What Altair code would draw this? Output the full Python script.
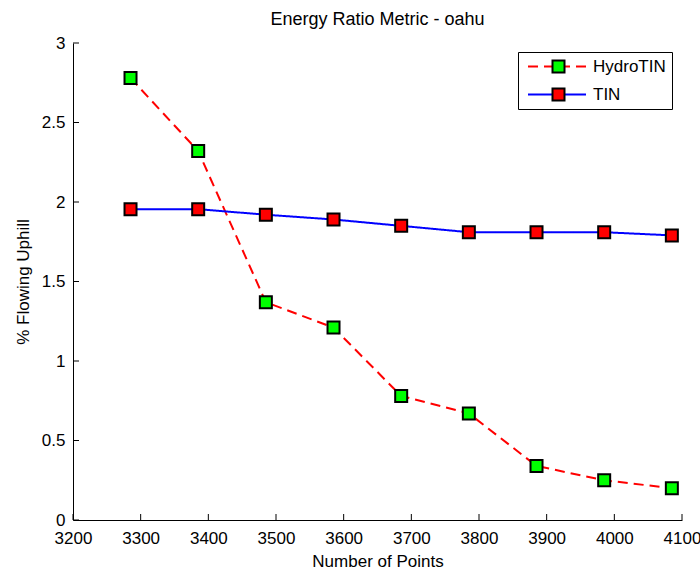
import altair as alt
import pandas as pd

# ---- data ----
num_points = [3285, 3385, 3485, 3585, 3685, 3785, 3885, 3985, 4085]
hydrotin = [2.78, 2.32, 1.37, 1.21, 0.78, 0.67, 0.34, 0.25, 0.20]
tin = [1.955, 1.955, 1.92, 1.89, 1.85, 1.81, 1.81, 1.81, 1.79]
series_names = ["HydroTIN", "TIN"]
line_colors = ["#ff0000", "#0000ff"]
marker_colors = ["#00ff00", "#ff0000"]
line_dashes = [[10, 6], [1, 0]]
x_ticks = [3200, 3300, 3400, 3500, 3600, 3700, 3800, 3900, 4000, 4100]
y_ticks = [0, 0.5, 1, 1.5, 2, 2.5, 3]

FONT = "Liberation Sans, Arial, sans-serif"
W, H = 609, 477

rows = []
for name, vals in zip(series_names, [hydrotin, tin]):
    for xv, v in zip(num_points, vals):
        rows.append({"points": xv, "value": v, "series": name, "marker": name})
df = pd.DataFrame(rows)
xtick_df = pd.DataFrame({"points": x_ticks})
ytick_df = pd.DataFrame({"value": y_ticks})

x_scale = alt.Scale(domain=[3200, 4100], nice=False, zero=False)
y_scale = alt.Scale(domain=[0, 3], nice=False)


def X():
    return alt.X("points:Q", scale=x_scale, title="Number of Points",
                 axis=alt.Axis(values=x_ticks, format="d", labelPadding=10,
                               titlePadding=7, labelFlush=False,
                               labelOverlap=False))


def Y():
    return alt.Y("value:Q", scale=y_scale, title="% Flowing Uphill",
                 axis=alt.Axis(values=y_ticks, format=".1~f", labelPadding=8,
                               titlePadding=9, labelOverlap=False))


line_legend = alt.Legend(
    title=None, orient="none", legendX=445, legendY=9,
    symbolType="stroke", symbolSize=58 * 58, symbolStrokeWidth=2, symbolOffset=3,
    labelFont=FONT, labelFontSize=17, labelColor="black", labelOffset=6,
    strokeColor="black", padding=6, rowPadding=10, clipHeight=17,
)
marker_legend = alt.Legend(
    title=None, orient="none", legendX=471, legendY=9,
    symbolType="square", symbolSize=144, symbolStrokeWidth=2,
    symbolStrokeColor="black", symbolOpacity=1,
    labelFont=FONT, labelFontSize=17, labelExpr="''",
    padding=6, rowPadding=10, clipHeight=17,
)

xticks_layer = alt.Chart(xtick_df).mark_rule(color="black", strokeWidth=1).encode(
    x=X(), y=alt.value(H), y2=alt.value(H - 6)
)
yticks_layer = alt.Chart(ytick_df).mark_rule(color="black", strokeWidth=1).encode(
    y=Y(), x=alt.value(0), x2=alt.value(6)
)

lines = alt.Chart(df).mark_line(strokeWidth=2).encode(
    x=X(),
    y=Y(),
    color=alt.Color("series:N", scale=alt.Scale(domain=series_names, range=line_colors),
                    legend=line_legend),
    strokeDash=alt.StrokeDash("series:N", scale=alt.Scale(domain=series_names, range=line_dashes),
                              legend=line_legend),
)

points = alt.Chart(df).mark_point(
    shape="square", filled=True, size=144, stroke="black", strokeWidth=2, opacity=1
).encode(
    x=X(),
    y=Y(),
    fill=alt.Fill("marker:N", scale=alt.Scale(range=marker_colors),
                  legend=marker_legend),
)

chart = alt.layer(xticks_layer, yticks_layer, lines, points).properties(
    width=W,
    height=H,
    title=alt.TitleParams("Energy Ratio Metric - oahu", font=FONT, fontSize=18,
                          fontWeight="normal", color="black", offset=5,
                          anchor="middle", frame="group"),
    padding={"left": 73, "top": 43, "right": 18, "bottom": 50},
    autosize=alt.AutoSizeParams(type="none"),
    background="white",
).configure_view(stroke=None).configure_axis(
    domainColor="black", domainWidth=1, ticks=False, grid=False,
    labelFont=FONT, labelFontSize=17, labelColor="black",
    titleFont=FONT, titleFontSize=17, titleFontWeight="normal", titleColor="black",
)

chart.save("out.html", embed_options={"renderer": "svg", "actions": False})
